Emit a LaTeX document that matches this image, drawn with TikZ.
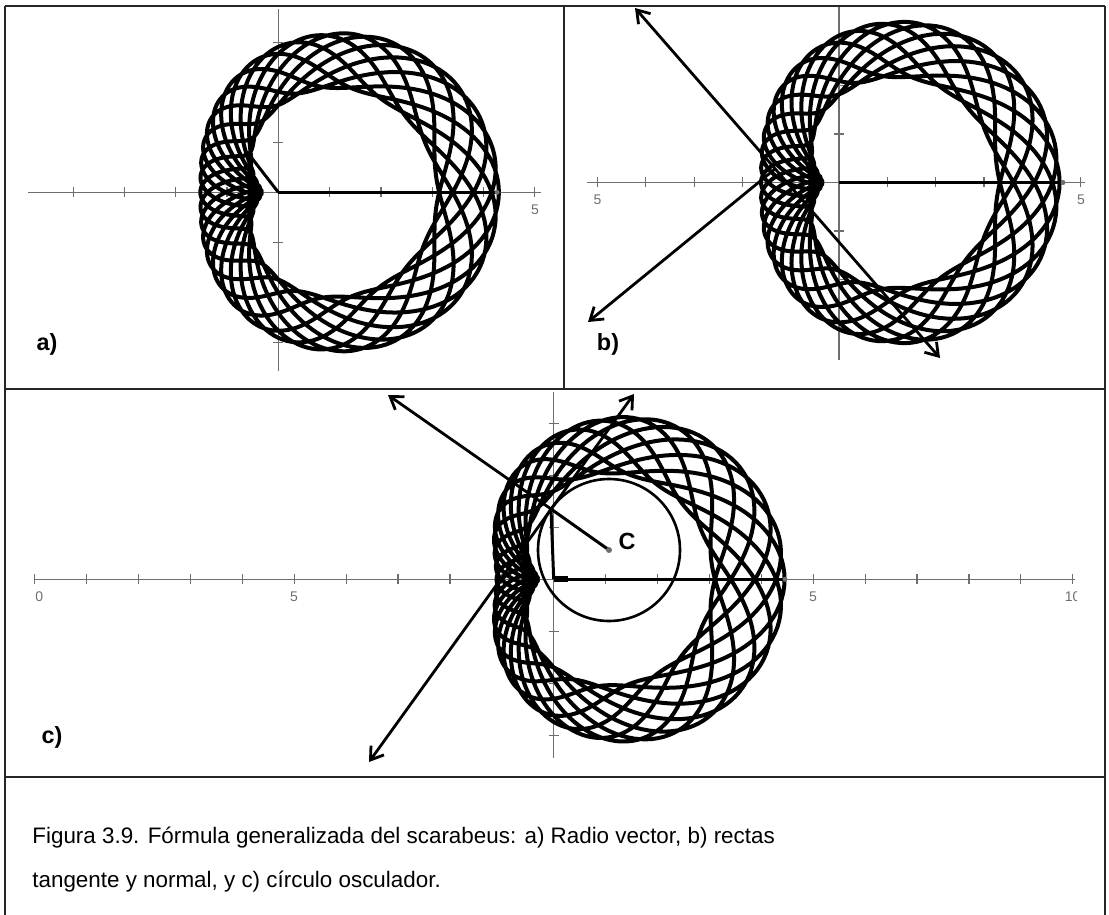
\documentclass[tikz,border=0pt]{standalone}
\usepackage{fontspec}
\setmainfont{Liberation Sans}
\usetikzlibrary{arrows.meta}
\definecolor{AxisGray}{RGB}{110,110,110}
\tikzset{
  panelline/.style={draw=black!85,line width=1pt},
  graphaxis/.style={draw=AxisGray,line width=0.6pt},
  axtick/.style={draw=AxisGray,line width=0.6pt},
  curve/.style={draw=black,line width=2pt,line join=round},
  vec/.style={draw=black,line width=1.5pt},
  ray/.style={draw=black,line width=1.4pt,-{Straight Barb[length=6pt,width=8pt]}},
  ray2/.style={draw=black,line width=1.4pt,{Straight Barb[length=6pt,width=8pt]}-{Straight Barb[length=6pt,width=8pt]}},
  numlab/.style={text=AxisGray,font=\fontsize{7}{8}\selectfont,inner sep=0pt},
  panellab/.style={font=\bfseries\fontsize{11.7}{14}\selectfont,inner sep=0pt},
  caption/.style={font=\fontsize{11.2}{13}\selectfont,inner sep=0pt},
  % s runs 0..360, the curve turns 9 times and waves 32 times
  declare function={scr(\s,\cc,\aa,\bb,\dd)=\cc+\aa*cos(9*\s)+(\bb+\dd*cos(9*\s))*cos(32*mod(\s,11.25));},
}

\begin{document}
\begin{tikzpicture}[x=0.5pt,y=-0.5pt]
\useasboundingbox (0,0) rectangle (1109,915);
% frame of the figure
\draw[panelline] (4.5,6) -- (1105,6);
\draw[panelline] (4.5,6) -- (4.5,915);
\draw[panelline] (1105,6) -- (1105,915);
\draw[panelline] (4.5,389) -- (1105,389);
\draw[panelline] (563.5,6) -- (563.5,389);
\draw[panelline] (4.5,777) -- (1105,777);

% a) radio vector
\coordinate (oa) at (278.3,192.3);
\coordinate (pa) at (251,157);
\coordinate (ea) at (497,192.3);
\draw[graphaxis] (28,192.3) -- (541,192.3);
\draw[graphaxis] (278.3,9) -- (278.3,371);
\foreach \i in {-4,...,5} \draw[axtick] ({278.3+51.3*\i},187.3) -- ++(0,10);
\foreach \j in {-3,...,3} \draw[axtick] (273.3,{192.3+50*\j}) -- ++(10,0);
\node[numlab] (la5) at (535,210) {5};
\begin{scope}[shift={(oa)}]
\draw[curve] plot[domain=0:360,samples=2001,variable=\s]
  ({51.3*scr(\s,2.31,1.39,0.6,0)*cos(9*\s)},{-50*scr(\s,2.31,1.39,0.6,0)*sin(9*\s)});
\end{scope}
\draw[vec] (oa) -- (pa);
\draw[vec] (oa) -- (ea);
\fill[AxisGray] (ea) circle[radius=2.5];
\node[panellab] (laba) at (47,344) {a)};

% b) rectas tangente y normal
\coordinate (ob) at (839,182.5);
\coordinate (pb) at (775,169);
\coordinate (tb1) at (635,8);
\coordinate (tb2) at (940,358);
\coordinate (nb) at (588,322);
\coordinate (eb) at (1063,182.5);
\draw[graphaxis] (587,182.5) -- (1085,182.5);
\draw[graphaxis] (839,7) -- (839,360);
\foreach \i in {-5,...,5} \draw[axtick] ({839+48.3*\i},177.5) -- ++(0,10);
\foreach \j in {-3,...,3} \draw[axtick] (834,{182.5+48.5*\j}) -- ++(10,0);
\node[numlab] (lb5l) at (597.5,200) {5};
\node[numlab] (lb5r) at (1081,200) {5};
\begin{scope}[shift={(ob)}]
\draw[curve] plot[domain=0:360,samples=2001,variable=\s]
  ({51.3*scr(\s,2.31,1.39,0.6,0)*cos(9*\s)},{-50.5*scr(\s,2.31,1.39,0.6,0)*sin(9*\s)});
\end{scope}
\draw[vec] (ob) -- (eb);
\fill[AxisGray] (eb) circle[radius=2.5];
\draw[ray2] (tb1) -- (tb2);
\draw[ray] (pb) -- (nb);
\node[panellab] (labb) at (608,344) {b)};

% c) circulo osculador
\coordinate (oc) at (553.7,579.3);
\coordinate (pc) at (551,509);
\coordinate (cc) at (609,550);
\coordinate (nc) at (388,395);
\coordinate (tc1) at (634,394);
\coordinate (tc2) at (369,762);
\coordinate (ec) at (785,579.3);
\coordinate (bc) at (568,579.3);
\draw[graphaxis] (35,579.3) -- (1075,579.3);
\draw[graphaxis] (553.7,392) -- (553.7,758);
\foreach \i in {-10,...,10} \draw[axtick] ({553.7+51.9*\i},574.3) -- ++(0,10);
\foreach \j in {-3,...,3} \draw[axtick] (548.7,{579.3+52*\j}) -- ++(10,0);
\node[numlab] (lc5l) at (294,597) {5};
\node[numlab] (lc5r) at (813,597) {5};
\begin{scope}
\clip (35.5,585) rectangle (1076.5,610);
\node[numlab] (lc10l) at (35.4,597) {10};
\node[numlab] (lc10r) at (1072.7,597) {10};
\end{scope}
\begin{scope}[shift={(oc)}]
\draw[curve] plot[domain=0:360,samples=2001,variable=\s]
  ({52*scr(\s,2.225,1.525,0.545,0.145)*cos(9*\s)},{-51.5*scr(\s,2.225,1.525,0.545,0.145)*sin(9*\s)});
\end{scope}
\draw[vec] (oc) -- (ec);
\draw[draw=black,line width=3pt] (oc) -- (bc);
\fill[AxisGray] (ec) circle[radius=2.5];
\draw[draw=black,line width=1.3pt] (cc) circle[radius=71];
\draw[vec] (oc) -- (pc);
\draw[vec] (cc) -- (pc);
\draw[ray] (pc) -- (nc);
\draw[ray2] (tc1) -- (tc2);
\fill[AxisGray] (cc) circle[radius=3];
\node[panellab] (cl) at (627,541) {C};
\node[panellab] (labc) at (52,737) {c)};

% caption
\node[caption,anchor=base west] (cap1) at (32,843) {Figura 3.9. Fórmula generalizada del scarabeus: a) Radio vector, b) rectas};
\node[caption,anchor=base west] (cap2) at (32,887) {tangente y normal, y c) círculo osculador.};
\end{tikzpicture}
\end{document}
